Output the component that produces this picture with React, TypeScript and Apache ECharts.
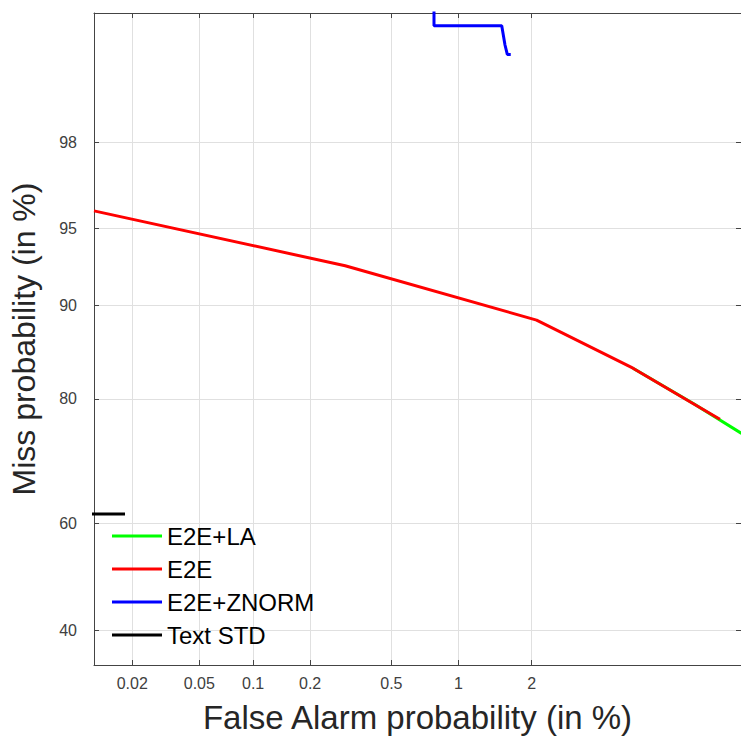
import React, { useEffect, useRef } from "react";
import * as echarts from "echarts";

// Probit (normal-deviate) DET chart: values in percent
const X_TICKS = [0.02, 0.05, 0.1, 0.2, 0.5, 1, 2];
const X_TICK_LABELS = ["0.02", "0.05", "0.1", "0.2", "0.5", "1", "2"];
const Y_TICKS = [40, 60, 80, 90, 95, 98];
const Y_TICK_LABELS = ["40", "60", "80", "90", "95", "98"];
const X_RANGE = [0.01155, 10.12];
const Y_RANGE = [33.9, 99.613];

const SERIES_NAMES = ["E2E+LA", "E2E", "E2E+ZNORM", "Text STD"];
const SERIES_COLORS = ["#00ff00", "#ff0000", "#0000ff", "#000000"];

const E2E_LA_FA = [4.68, 7.3, 10.1, 11.4];
const E2E_LA_MISS = [83.8, 79.4, 75.2, 73.5];
const E2E_FA = [0.01155, 0.3, 2.09, 4.68, 7.15, 8.8];
const E2E_MISS = [95.81, 92.92, 88.75, 83.8, 79.6, 77.2];
const ZNORM_FA = [0.782, 0.782, 1.519, 1.566, 1.6, 1.652];
const ZNORM_MISS = [99.7, 99.538, 99.538, 99.4, 99.32, 99.32];
const STD_FA = [0.005, 0.01805];
const STD_MISS = [61.7, 61.7];

function probit(p: number): number {
  const a = [-3.969683028665376e1, 2.209460984245205e2, -2.759285104469687e2, 1.38357751867269e2, -3.066479806614716e1, 2.506628277459239];
  const b = [-5.447609879822406e1, 1.615858368580409e2, -1.556989798598866e2, 6.680131188771972e1, -1.328068155288572e1];
  const c = [-7.784894002430293e-3, -3.223964580411365e-1, -2.400758277161838, -2.549732539343734, 4.374664141464968, 2.938163982698783];
  const d = [7.784695709041462e-3, 3.224671290700398e-1, 2.445134137142996, 3.754408661907416];
  const pl = 0.02425;
  const ph = 1 - pl;
  let q: number, r: number;
  if (p < pl) {
    q = Math.sqrt(-2 * Math.log(p));
    return (((((c[0] * q + c[1]) * q + c[2]) * q + c[3]) * q + c[4]) * q + c[5]) / ((((d[0] * q + d[1]) * q + d[2]) * q + d[3]) * q + 1);
  }
  if (p <= ph) {
    q = p - 0.5;
    r = q * q;
    return ((((((a[0] * r + a[1]) * r + a[2]) * r + a[3]) * r + a[4]) * r + a[5]) * q) / (((((b[0] * r + b[1]) * r + b[2]) * r + b[3]) * r + b[4]) * r + 1);
  }
  q = Math.sqrt(-2 * Math.log(1 - p));
  return -(((((c[0] * q + c[1]) * q + c[2]) * q + c[3]) * q + c[4]) * q + c[5]) / ((((d[0] * q + d[1]) * q + d[2]) * q + d[3]) * q + 1);
}

const pz = (pct: number) => probit(pct / 100);

const FONT = "'Liberation Sans', Arial, Helvetica, sans-serif";

export default function App() {
  const ref = useRef<HTMLDivElement>(null);

  useEffect(() => {
    document.body.style.margin = "0";
    if (!ref.current) return;
    const chart = echarts.init(ref.current, undefined, { renderer: "svg" });

    const xTickP = X_TICKS.map(pz);
    const yTickP = Y_TICKS.map(pz);
    const fmt = (ticks: number[], labels: string[]) => (v: number) => {
      const i = ticks.findIndex((t) => Math.abs(t - v) < 1e-6);
      return i >= 0 ? labels[i] : "";
    };

    const axisLineStyle = { color: "#444", width: 1 };
    const tick = (vals: number[]) => ({
      show: true,
      inside: true,
      length: 5,
      customValues: vals,
      lineStyle: { color: "#444", width: 1 },
    });
    const split = { show: true, lineStyle: { color: "#e0e0e0", width: 1 } };

    const mk = (fa: number[], miss: number[]) => fa.map((f, i) => [pz(f), pz(miss[i])]);
    const datasets = [
      mk(E2E_LA_FA, E2E_LA_MISS),
      mk(E2E_FA, E2E_MISS),
      mk(ZNORM_FA, ZNORM_MISS),
      mk(STD_FA, STD_MISS),
    ];

    chart.setOption({
      animation: false,
      grid: { left: 94, top: 13, right: 0, bottom: 73, containLabel: false, outerBoundsMode: "none" },
      xAxis: [
        {
          type: "value",
          min: pz(X_RANGE[0]),
          max: pz(X_RANGE[1]),
          position: "bottom",
          name: "False Alarm probability (in %)",
          nameLocation: "middle",
          nameGap: 36,
          nameTextStyle: { fontSize: 33, color: "#262626", fontFamily: FONT },
          axisLine: { show: true, onZero: false, lineStyle: axisLineStyle },
          axisTick: tick(xTickP),
          axisLabel: {
            customValues: xTickP,
            formatter: fmt(xTickP, X_TICK_LABELS),
            fontSize: 16,
            color: "#404040",
            fontFamily: FONT,
            margin: 10,
          },
          splitLine: split,
        },
        {
          type: "value",
          min: pz(X_RANGE[0]),
          max: pz(X_RANGE[1]),
          position: "top",
          axisLine: { show: true, onZero: false, lineStyle: axisLineStyle },
          axisTick: tick(xTickP),
          axisLabel: { show: false, customValues: xTickP },
          splitLine: { show: false },
        },
      ],
      yAxis: [
        {
          type: "value",
          min: pz(Y_RANGE[0]),
          max: pz(Y_RANGE[1]),
          position: "left",
          name: "Miss probability (in %)",
          nameLocation: "middle",
          nameGap: 54,
          nameTextStyle: { fontSize: 32, color: "#262626", fontFamily: FONT },
          axisLine: { show: true, onZero: false, lineStyle: axisLineStyle },
          axisTick: tick(yTickP),
          axisLabel: {
            customValues: yTickP,
            formatter: fmt(yTickP, Y_TICK_LABELS),
            fontSize: 16,
            color: "#404040",
            fontFamily: FONT,
            margin: 17,
          },
          splitLine: split,
        },
        {
          type: "value",
          min: pz(Y_RANGE[0]),
          max: pz(Y_RANGE[1]),
          position: "right",
          axisLine: { show: false, onZero: false },
          axisTick: tick(yTickP),
          axisLabel: { show: false, customValues: yTickP },
          splitLine: { show: false },
        },
      ],
      legend: {
        orient: "vertical",
        left: 112,
        top: 524,
        padding: 0,
        icon: "rect",
        itemWidth: 50,
        itemHeight: 3,
        itemGap: 9,
        data: SERIES_NAMES,
        textStyle: { fontSize: 24, color: "#000", fontFamily: FONT, lineHeight: 24 },
      },
      series: SERIES_NAMES.map((name, i) => ({
        name,
        type: "line",
        xAxisIndex: 0,
        yAxisIndex: 0,
        data: datasets[i],
        symbol: "none",
        showSymbol: false,
        clip: true,
        color: SERIES_COLORS[i],
        lineStyle: { color: SERIES_COLORS[i], width: 3 },
        itemStyle: { color: SERIES_COLORS[i] },
      })),
    });

    return () => chart.dispose();
  }, []);

  return <div ref={ref} style={{ width: 741, height: 738 }} />;
}
